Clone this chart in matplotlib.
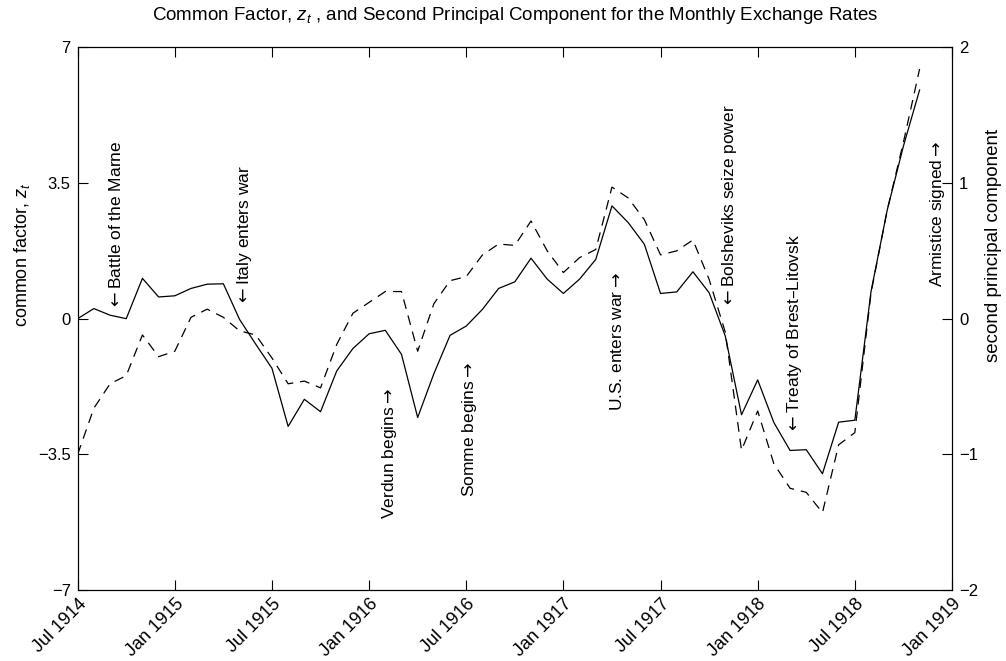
import numpy as np
import matplotlib
matplotlib.use("Agg")
import matplotlib.pyplot as plt
from matplotlib.transforms import ScaledTranslation

plt.rcParams['font.family'] = ['Liberation Sans', 'DejaVu Sans']
plt.rcParams['mathtext.fontset'] = 'custom'
plt.rcParams['mathtext.it'] = 'Liberation Sans:italic'
plt.rcParams['mathtext.rm'] = 'Liberation Sans'
plt.rcParams['lines.scale_dashes'] = False

# months since Jul 1914
tick_pos = [0, 6, 12, 18, 24, 30, 36, 42, 48, 54]
tick_labels = ["Jul 1914", "Jan 1915", "Jul 1915", "Jan 1916", "Jul 1916",
               "Jan 1917", "Jul 1917", "Jan 1918", "Jul 1918", "Jan 1919"]

common_factor = [0.00, 0.26, 0.09, 0.00, 1.04, 0.56, 0.59, 0.78, 0.89, 0.90,
                 -0.02, -0.66, -1.28, -2.78, -2.08, -2.40, -1.35, -0.77, -0.39, -0.30,
                 -0.92, -2.55, -1.42, -0.43, -0.19, 0.24, 0.78, 0.95, 1.56, 1.02,
                 0.65, 1.02, 1.53, 2.91, 2.48, 1.92, 0.65, 0.69, 1.21, 0.67,
                 -0.45, -2.48, -1.58, -2.68, -3.40, -3.38, -4.00, -2.67, -2.62, 0.70,
                 2.80, 4.45, 5.90]
second_pc = [-1.00, -0.66, -0.48, -0.42, -0.12, -0.28, -0.24, 0.01, 0.07, 0.01,
             -0.09, -0.12, -0.29, -0.48, -0.46, -0.51, -0.19, 0.04, 0.12, 0.20,
             0.20, -0.24, 0.11, 0.28, 0.31, 0.47, 0.55, 0.54, 0.72, 0.50,
             0.34, 0.45, 0.51, 0.97, 0.89, 0.73, 0.47, 0.50, 0.58, 0.29,
             -0.10, -0.97, -0.68, -1.07, -1.25, -1.28, -1.43, -0.93, -0.84, 0.19,
             0.80, 1.30, 1.84]
months = np.arange(len(common_factor))

LA = r"$\leftarrow$"
RA = r"$\rightarrow$"
# annotations: (text, month position, y on left axis, vertical anchor)
events = [
    (LA + "Battle of the Marne", 2.37, 0.22, 'bottom'),
    (LA + "Italy enters war", 10.33, 0.33, 'bottom'),
    ("Verdun begins" + RA, 19.29, -1.78, 'top'),
    ("Somme begins" + RA, 24.23, -1.11, 'top'),
    ("U.S. enters war" + RA, 33.29, 1.19, 'top'),
    (LA + "Bolsheviks seize power", 40.29, 0.28, 'bottom'),
    (LA + "Treaty of Brest\u2013Litovsk", 44.3, -2.98, 'bottom'),
    ("Armistice signed" + RA, 53.1, 4.6, 'top'),
]

fig = plt.figure(figsize=(10.06, 6.61), dpi=100)
ax = fig.add_axes([0.0772, 0.1074, 0.8691, 0.8210])
ax2 = ax.twinx()

ax.plot(months, common_factor, color='black', lw=0.9)
ax2.plot(months, second_pc, color='black', lw=0.9, dashes=(7, 5))

ax.set_xlim(0, 54)
ax.set_ylim(-7, 7)
ax2.set_ylim(-2, 2)
ax.set_yticks([-7, -3.5, 0, 3.5, 7])
ax.set_yticklabels(["\u22127", "\u22123.5", "0", "3.5", "7"])
ax2.set_yticks([-2, -1, 0, 1, 2])
ax2.set_yticklabels(["\u22122", "\u22121", "0", "1", "2"])
ax.set_xticks(tick_pos)
ax.set_xticklabels(tick_labels, rotation=45, ha='right', va='top',
                   rotation_mode='anchor', fontsize=13)
shift = ScaledTranslation(7 / 72, -3 / 72, fig.dpi_scale_trans)
for lab in ax.get_xticklabels():
    lab.set_transform(lab.get_transform() + shift)

for a in (ax, ax2):
    for s in a.spines.values():
        s.set_linewidth(0.8)
ax.tick_params(axis='both', direction='in', length=7, width=0.8, labelsize=12,
               top=True, pad=5)
ax.tick_params(axis='x', labelsize=13, pad=4)
ax2.tick_params(axis='y', direction='in', length=7, width=0.8, labelsize=12, pad=5)

for txt, xm, yv, va in events:
    ax.text(xm, yv, txt, rotation=90, ha='center', va=va, fontsize=12.5,
            math_fontfamily='dejavusans')

fig.text(22 / 1006, 1 - 255 / 661, "common factor, $z_t$", rotation=90,
         ha='center', va='center', fontsize=13)
fig.text(993 / 1006, 1 - 245 / 661, "second principal component", rotation=90,
         ha='center', va='center', fontsize=13.5)
fig.text(515 / 1006, 1 - 16 / 661,
         "Common Factor, $z_t$ , and Second Principal Component for the Monthly Exchange Rates",
         ha='center', va='center', fontsize=13.5)

fig.savefig("out.png", dpi=100)
